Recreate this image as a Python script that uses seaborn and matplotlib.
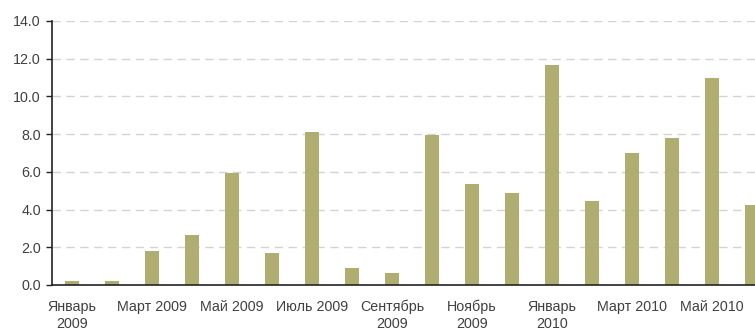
import matplotlib
matplotlib.use("Agg")
import matplotlib.pyplot as plt
import seaborn as sns
import pandas as pd

months = ["Январь 2009", "Февраль 2009", "Март 2009", "Апрель 2009", "Май 2009", "Июнь 2009",
          "Июль 2009", "Август 2009", "Сентябрь 2009", "Октябрь 2009", "Ноябрь 2009", "Декабрь 2009",
          "Январь 2010", "Февраль 2010", "Март 2010", "Апрель 2010", "Май 2010", "Июнь 2010"]
values = [0.2, 0.2, 1.8, 2.65, 5.95, 1.7, 8.1, 0.9, 0.64, 7.95, 5.36, 4.88,
          11.67, 4.45, 7.0, 7.8, 10.98, 4.24]
tick_labels = ["Январь\n2009", "Март 2009", "Май 2009", "Июль 2009", "Сентябрь\n2009",
               "Ноябрь\n2009", "Январь\n2010", "Март 2010", "Май 2010"]
y_ticks = [0, 2, 4, 6, 8, 10, 12, 14]

sns.set_style("white")
plt.rcParams['font.family'] = ['Liberation Sans', 'DejaVu Sans']

df = pd.DataFrame({"month": months, "value": values})

fig = plt.figure(figsize=(7.55, 3.30), dpi=100)
ax = fig.add_axes([52/755, 1-285/330, 720/755, 264/330])

sns.barplot(data=df, x="month", y="value", order=months, color="#AFAD70",
            width=0.35, saturation=1, linewidth=0, ax=ax, zorder=2)

ax.set_xlim(-0.5, len(months) - 0.5)
ax.set_ylim(0, 14)
ax.set_yticks(y_ticks)
ax.set_yticklabels([f"{v:.1f}" for v in y_ticks], fontsize=10.3, color="#404040")
ax.set_xticks(range(0, len(months), 2))
ax.set_xticklabels(tick_labels, fontsize=10.3, color="#404040", linespacing=1.3, va="top")
ax.tick_params(axis="x", length=0, pad=10.5)
ax.tick_params(axis="y", length=4, width=1, color="#222222", pad=4, left=True)

for y in y_ticks[1:]:
    ax.axhline(y, color="#d3d3d3", linewidth=1, linestyle=(0, (6, 4)), zorder=1)

for s in ["top", "right"]:
    ax.spines[s].set_visible(False)
for s in ["left", "bottom"]:
    ax.spines[s].set_color("#222222")
    ax.spines[s].set_linewidth(1.2)
    ax.spines[s].set_zorder(3)
ax.set_xlabel("")
ax.set_ylabel("")

fig.savefig("out.png", dpi=100)
